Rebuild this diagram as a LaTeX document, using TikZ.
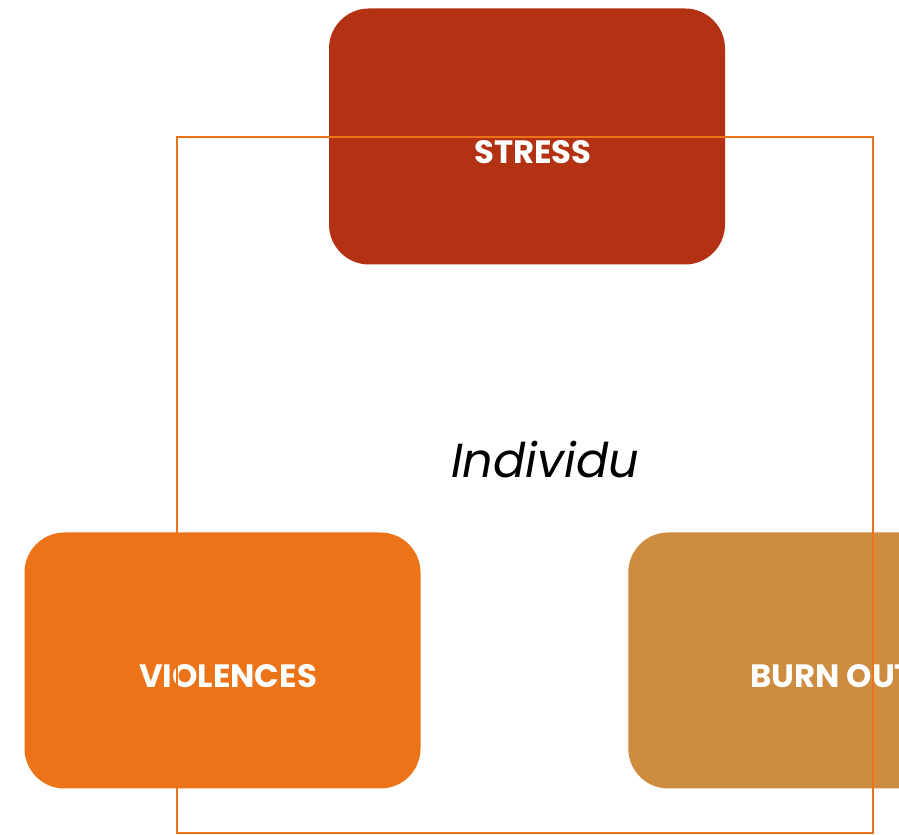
\documentclass[tikz,border=0pt]{standalone}
\usepackage{fontspec}
\setmainfont{Poppins}
\usepackage{tikz}
\usetikzlibrary{positioning,calc}
\definecolor{stressred}{HTML}{B33214}
\definecolor{violorange}{HTML}{EC7318}
\definecolor{burnochre}{HTML}{CE8C3E}
\tikzset{
  facteur/.style={rectangle,rounded corners=1cm,minimum width=9.9cm,minimum height=6.4cm,inner sep=0pt},
  titre/.style={text=white,font=\fontsize{23}{26}\selectfont\bfseries,inner sep=0pt}
}

\begin{document}
\begin{tikzpicture}
\useasboundingbox (0,0) rectangle (22.475,20.875);
\clip (0,0) rectangle (22.475,20.875);
\node[facteur,fill=stressred] (stress) at (13.175,17.4625) {};
\node[facteur,fill=violorange] (violences) at (5.5625,4.3625) {};
\node[facteur,fill=burnochre,anchor=west] (burnout) at (15.7,4.3625) {};
\node[titre] (stresslbl) at (13.325,17.075) {STRESS};
\node[titre] (violenceslbl) at (5.7,3.975) {VIOLENCES};
\node[titre,anchor=west] (burnoutlbl) at (18.75,3.975) {BURN OUT};
\node[font=\fontsize{34}{40}\selectfont\itshape,inner sep=0pt] (individu) at (13.625,9.375) {Individu};
\draw[violorange,line width=1.4pt] (4.425,0.05) coordinate (sq1) rectangle (21.825,17.45) coordinate (sq2);
\end{tikzpicture}
\end{document}
